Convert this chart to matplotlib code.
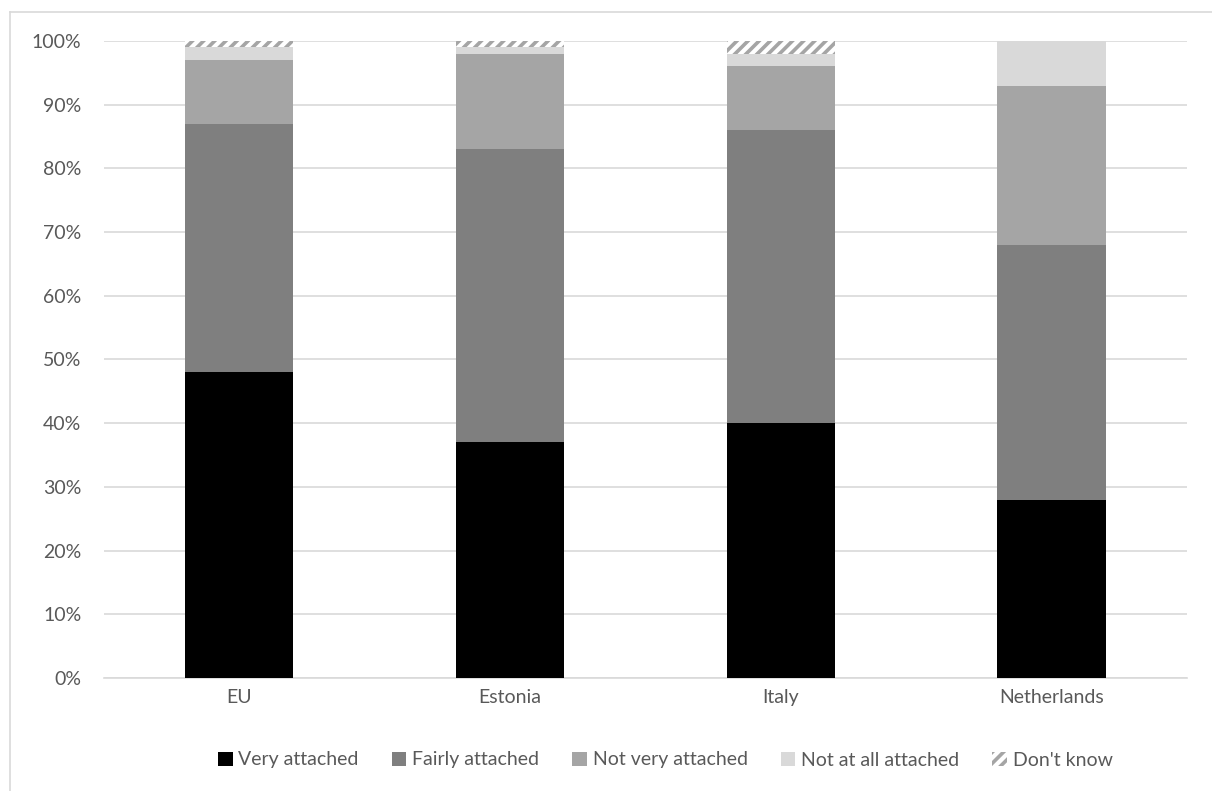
import matplotlib
matplotlib.use("Agg")
import matplotlib.pyplot as plt
from matplotlib.lines import Line2D
import numpy as np

plt.rcParams['font.family'] = ['Lato', 'DejaVu Sans']
plt.rcParams['hatch.linewidth'] = 2.6

categories = ["EU", "Estonia", "Italy", "Netherlands"]
very_attached = [48, 37, 40, 28]
fairly_attached = [39, 46, 46, 40]
not_very_attached = [10, 15, 10, 25]
not_at_all_attached = [2, 1, 2, 7]
dont_know = [1, 1, 2, 0]

series = [
    ("Very attached", very_attached, "#000000", None),
    ("Fairly attached", fairly_attached, "#7f7f7f", None),
    ("Not very attached", not_very_attached, "#a5a5a5", None),
    ("Not at all attached", not_at_all_attached, "#d9d9d9", None),
    ("Don't know", dont_know, "#ffffff", "///"),
]

W, H = 1212, 791
fig = plt.figure(figsize=(W / 100, H / 100), dpi=100)
ax = fig.add_axes([103.5 / W, 1 - 678 / H, (1187 - 103.5) / W, (678 - 41) / H])

x = np.arange(len(categories))
bottom = np.zeros(len(categories))
handles = []
for label, vals, color, hatch in series:
    vals = np.array(vals, dtype=float)
    if hatch:
        bars = ax.bar(x, vals, 0.40, bottom=bottom, color=color, hatch=hatch,
                      edgecolor="#a5a5a5", linewidth=0, zorder=3, label=label)
    else:
        bars = ax.bar(x, vals, 0.40, bottom=bottom, color=color,
                      linewidth=0, zorder=3, label=label)
    bottom += vals
    handles.append(bars)

ax.set_xlim(-0.5, len(categories) - 0.5)
ax.set_ylim(0, 100)
ax.set_yticks(np.arange(0, 101, 10))
ax.set_yticklabels([f"{v}%" for v in range(0, 101, 10)])
ax.set_xticks(x)
ax.set_xticklabels(categories)
ax.grid(axis="y", color="#d9d9d9", linewidth=1.2, zorder=0)
for s in ax.spines.values():
    s.set_visible(False)
ax.spines["bottom"].set_visible(True)
ax.spines["bottom"].set_color("#d9d9d9")
ax.spines["bottom"].set_linewidth(1.2)
ax.tick_params(axis="both", length=0, labelsize=14, colors="#595959")
ax.tick_params(axis="y", pad=16)
ax.tick_params(axis="x", pad=8)

leg = fig.legend(handles=handles, loc="center", bbox_to_anchor=(0.549, 1 - 760 / H),
                 ncol=5, frameon=False, fontsize=14, handlelength=0.75,
                 handleheight=0.75, handletextpad=0.3, columnspacing=1.7)
for t in leg.get_texts():
    t.set_color("#595959")

# chart area border (top and left edges)
fig.add_artist(Line2D([10 / W, 1], [1 - 12 / H, 1 - 12 / H], color="#d9d9d9",
                      linewidth=1.2, transform=fig.transFigure))
fig.add_artist(Line2D([10 / W, 10 / W], [0, 1 - 12 / H], color="#d9d9d9",
                      linewidth=1.2, transform=fig.transFigure))

fig.savefig("out.png", dpi=100)
